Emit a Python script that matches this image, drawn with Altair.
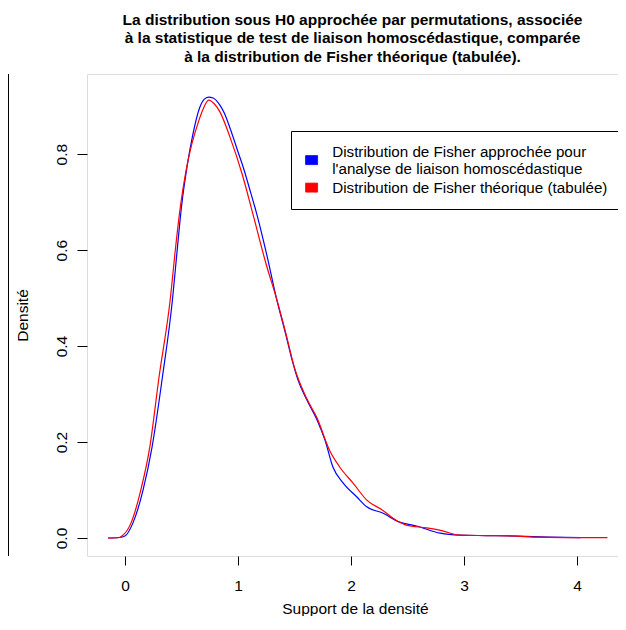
import altair as alt
import pandas as pd

# --- data ---
series_names = [
    "Distribution de Fisher approchée pour\nl'analyse de liaison homoscédastique",
    "Distribution de Fisher théorique (tabulée)",
]
series_colors = ["#0000FF", "#FF0000"]

blue_x = [-0.15, -0.05, 0.0, 0.07, 0.16, 0.24, 0.33, 0.42, 0.46, 0.5, 0.55, 0.6, 0.66,
          0.70, 0.74, 0.78, 0.84, 0.88, 0.93, 1.0, 1.05, 1.1, 1.17, 1.26, 1.34, 1.42,
          1.48, 1.53, 1.61, 1.70, 1.77, 1.84, 1.93, 2.05, 2.14, 2.28, 2.43, 2.58, 2.79,
          2.96, 3.2, 3.47, 3.76, 4.03]
blue_y = [0.0, 0.001, 0.004, 0.031, 0.10, 0.19, 0.333, 0.496, 0.595, 0.69, 0.775, 0.84,
          0.896, 0.914, 0.919, 0.917, 0.902, 0.885, 0.854, 0.805, 0.77, 0.73, 0.672,
          0.585, 0.50, 0.427, 0.37, 0.33, 0.2875, 0.246, 0.204, 0.148, 0.115, 0.086,
          0.065, 0.052, 0.033, 0.025, 0.010, 0.006, 0.005, 0.004, 0.002, 0.001]

red_x = [-0.15, -0.05, -0.027, 0.053, 0.14, 0.22, 0.30, 0.40, 0.45, 0.49, 0.54, 0.58,
         0.64, 0.69, 0.74, 0.79, 0.84, 0.93, 1.04, 1.13, 1.25, 1.34, 1.42, 1.50, 1.61,
         1.70, 1.81, 1.90, 2.02, 2.14, 2.28, 2.40, 2.49, 2.67, 2.81, 2.96, 3.2, 3.47,
         3.61, 3.9, 4.27]
red_y = [0.0, 0.001, 0.004, 0.031, 0.10, 0.19, 0.333, 0.496, 0.61, 0.69, 0.765, 0.81,
         0.86, 0.893, 0.9125, 0.905, 0.888, 0.835, 0.756, 0.677, 0.57, 0.50, 0.43, 0.355,
         0.29, 0.25, 0.183, 0.148, 0.114, 0.079, 0.058, 0.037, 0.027, 0.021, 0.015,
         0.006, 0.005, 0.004, 0.002, 0.001, 0.001]

x_ticks = [0, 1, 2, 3, 4]
y_ticks = [0.0, 0.2, 0.4, 0.6, 0.8]

title_lines = [
    "La distribution sous H0 approchée par permutations, associée",
    "à la statistique de test de liaison homoscédastique, comparée",
    "à la distribution de Fisher théorique (tabulée).",
]

FONT = "Liberation Sans"
FS = 15.5
W, H = 531, 482

df_blue = pd.DataFrame({"x": blue_x, "y": blue_y, "serie": series_names[0]})
df_red = pd.DataFrame({"x": red_x, "y": red_y, "serie": series_names[1]})
df_all = pd.concat([df_blue, df_red], ignore_index=True)

x_enc = alt.X(
    "x:Q",
    scale=alt.Scale(domain=[-0.336, 4.363], nice=False, zero=False),
    axis=alt.Axis(
        title="Support de la densité", values=x_ticks, format="d", grid=False,
        domain=False, tickSize=9, tickColor="black", labelPadding=13,
        labelFontSize=FS, labelFont=FONT, labelColor="black",
        titleFont=FONT, titleFontSize=FS, titleFontWeight="normal", titleColor="black",
        titleX=268, titleY=52, titleBaseline="middle",
    ),
)
y_enc = alt.Y(
    "y:Q",
    scale=alt.Scale(domain=[-0.0375, 0.967], nice=False, zero=False),
    axis=alt.Axis(
        title="Densité", values=y_ticks, format=".1f", grid=False,
        domain=False, tickSize=10, tickColor="black", labelAngle=270,
        labelAlign="center", labelBaseline="bottom", labelPadding=8,
        labelFontSize=FS, labelFont=FONT, labelColor="black",
        titleFont=FONT, titleFontSize=FS, titleFontWeight="normal", titleColor="black",
        titleX=-65, titleY=H / 2, titleBaseline="middle", titleAngle=270,
    ),
)

color_scale = alt.Scale(domain=series_names, range=series_colors)

# two-line label: its key box sits between the two lines, as in the reference
sym_expr = (
    "datum.value == '" + series_names[1] + "' ? 'M-1.2,-0.9H1.2V0.9H-1.2Z' "
    ": 'M-1.2,0.8H1.2V2.6H-1.2Z'"
)

legend_points = alt.Chart(df_all).mark_point(filled=True, size=0, opacity=1).encode(
    x=x_enc, y=y_enc,
    color=alt.Color(
        "serie:N", scale=color_scale,
        legend=alt.Legend(
            title=None, orient="none", legendX=204, legendY=57,
            symbolType={"expr": sym_expr}, symbolSize=100,
            symbolStrokeColor="black", symbolStrokeWidth=0.8, symbolOpacity=1,
            labelFont=FONT, labelFontSize=15.2, labelColor="black", labelLimit=0,
            labelExpr="split(datum.label, '\\n')", labelOffset=13,
            padding=13, strokeColor="black", fillColor="white", cornerRadius=0,
            rowPadding=3,
        ),
    ),
)

blue_line = alt.Chart(df_blue).mark_line(strokeWidth=1.2, interpolate="monotone").encode(
    x=x_enc, y=y_enc, color=alt.Color("serie:N", scale=color_scale, legend=None)
)
red_line = alt.Chart(df_red).mark_line(strokeWidth=1.2, interpolate="monotone").encode(
    x=x_enc, y=y_enc, color=alt.Color("serie:N", scale=color_scale, legend=None)
)

# edge of a neighbouring (cut-off) panel frame visible at the far left of the reference
left_edge = alt.Chart(pd.DataFrame({"k": [0]})).mark_rule(color="black", strokeWidth=1).encode(
    x=alt.value(-78.5), y=alt.value(0), y2=alt.value(H)
)

chart = alt.layer(legend_points, blue_line, red_line, left_edge).properties(
    width=W, height=H,
    title=alt.TitleParams(
        text=title_lines, font=FONT, fontSize=FS, fontWeight="bold", color="black",
        anchor="middle", lineHeight=18.5, offset=11, dy=2.5,
    ),
    autosize=alt.AutoSizeParams(type="none"),
    padding={"left": 79, "top": 66, "right": 0, "bottom": 60},
).configure_view(stroke="black", strokeWidth=1).configure(background="white")

chart.save("out.html", embed_options={"renderer": "svg", "actions": False})
